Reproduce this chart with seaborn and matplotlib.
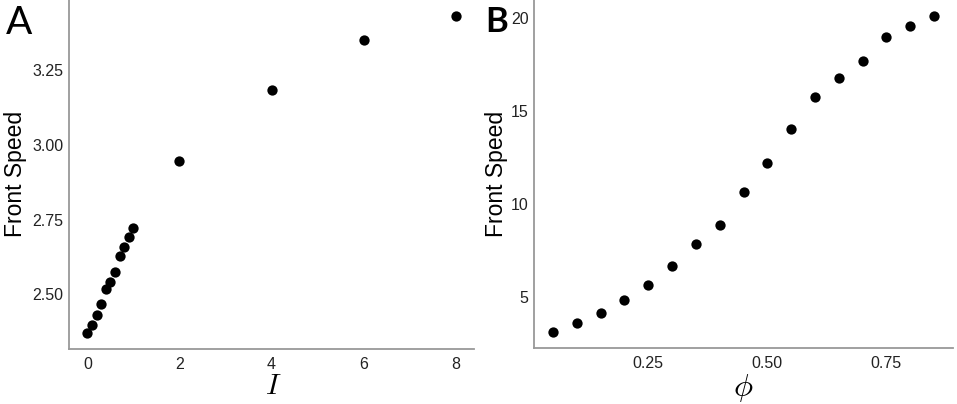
import matplotlib
matplotlib.use("Agg")
import matplotlib.pyplot as plt
import seaborn as sns
import pandas as pd

# Panel A data
I_vals = [0.0, 0.1, 0.2, 0.3, 0.4, 0.5, 0.6, 0.7, 0.8, 0.9, 1.0, 2.0, 4.0, 6.0, 8.0]
speed_A = [2.370, 2.397, 2.430, 2.469, 2.516, 2.541, 2.574, 2.628, 2.658, 2.691, 2.722,
           2.944, 3.184, 3.351, 3.431]
xticks_A = [0, 2, 4, 6, 8]
yticks_A = [2.50, 2.75, 3.00, 3.25]
yticklabels_A = ["2.50", "2.75", "3.00", "3.25"]

# Panel B data
phi_vals = [0.05, 0.10, 0.15, 0.20, 0.25, 0.30, 0.35, 0.40, 0.45, 0.50, 0.55, 0.60,
            0.65, 0.70, 0.75, 0.80, 0.85]
speed_B = [3.09, 3.58, 4.11, 4.83, 5.61, 6.63, 7.85, 8.87, 10.66, 12.23, 14.06, 15.74,
           16.78, 17.69, 18.98, 19.59, 20.14]
xticks_B = [0.25, 0.50, 0.75]
xticklabels_B = ["0.25", "0.50", "0.75"]
yticks_B = [5, 10, 15, 20]

sns.set_theme(style="white")
plt.rcParams['font.family'] = ['Liberation Sans', 'DejaVu Sans']
plt.rcParams['mathtext.fontset'] = 'cm'
plt.rcParams['text.color'] = 'black'

fig = plt.figure(figsize=(9.57, 4.04), dpi=100)
W, H = 957, 404

def ax_rect(l, r, b, t):
    return [l / W, 1 - b / H, (r - l) / W, (b - t) / H]

def fx(px):
    return px / W

def fy(py):
    return 1 - py / H

axA = fig.add_axes(ax_rect(69, 474, 349, 0))
axB = fig.add_axes(ax_rect(534, 953, 348, 0))

dfA = pd.DataFrame({"I": I_vals, "speed": speed_A})
dfB = pd.DataFrame({"phi": phi_vals, "speed": speed_B})

sns.scatterplot(data=dfA, x="I", y="speed", ax=axA, color="black", s=55,
                edgecolor="black", linewidth=0)
sns.scatterplot(data=dfB, x="phi", y="speed", ax=axB, color="black", s=55,
                edgecolor="black", linewidth=0)

def expand(vals, f=0.05):
    lo, hi = min(vals), max(vals)
    d = (hi - lo) * f
    return lo - d, hi + d

axA.set_xlim(*expand(I_vals))
axA.set_ylim(*expand(speed_A))
axB.set_xlim(*expand(phi_vals))
axB.set_ylim(*expand(speed_B))

axA.set_xticks(xticks_A)
axA.set_xticklabels([str(v) for v in xticks_A])
axA.set_yticks(yticks_A)
axA.set_yticklabels(yticklabels_A)
axB.set_xticks(xticks_B)
axB.set_xticklabels(xticklabels_B)
axB.set_yticks(yticks_B)
axB.set_yticklabels([str(v) for v in yticks_B])

for ax in (axA, axB):
    for side in ("top", "right"):
        ax.spines[side].set_visible(False)
    for side in ("left", "bottom"):
        ax.spines[side].set_color("#999999")
        ax.spines[side].set_linewidth(1.3)
    ax.tick_params(axis="y", length=0, labelsize=11.5, colors="#222222", pad=4)
    ax.tick_params(axis="x", length=0, labelsize=11.5, colors="#222222", pad=6)
    ax.set_xlabel("")
    ax.set_ylabel("")
    ax.grid(False)

# axis titles
fig.text(fx(16), fy(173.5), "Front Speed", rotation=90, fontsize=16.5,
         ha="center", va="center", color="black")
fig.text(fx(496), fy(173.5), "Front Speed", rotation=90, fontsize=16.5,
         ha="center", va="center", color="black")
fig.text(fx(273), fy(386), "$I$", fontsize=21, ha="center", va="center", color="black")
fig.text(fx(743), fy(387.5), r"$\phi$", fontsize=23, ha="center", va="center", color="black")

# panel tags
fig.text(fx(19), fy(23), "A", fontsize=28, ha="center", va="center", color="black",
         family=["Lato", "DejaVu Sans"])
fig.text(fx(497), fy(22), "B", fontsize=25, ha="center", va="center", color="black",
         fontweight="bold", family=["Lato", "DejaVu Sans"])

fig.savefig("out.png", dpi=100, facecolor="white")
